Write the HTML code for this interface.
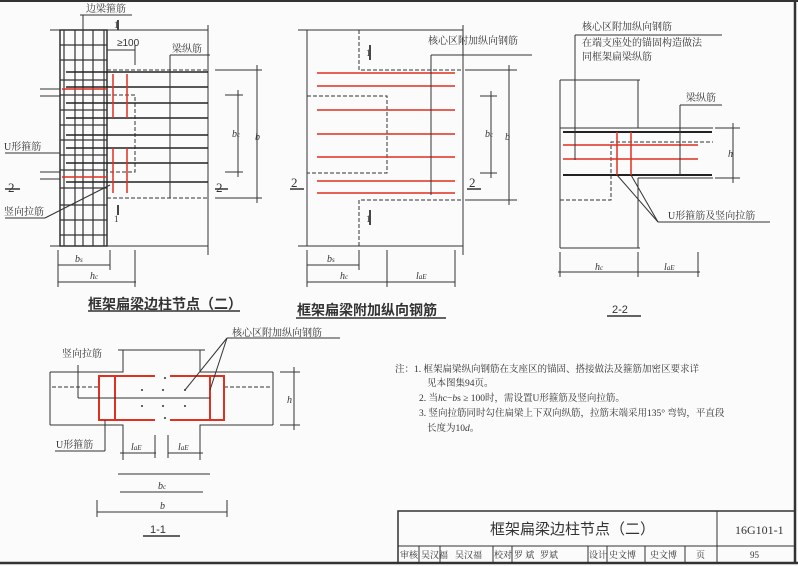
<!DOCTYPE html>
<html><head><meta charset="utf-8"><style>
html,body{margin:0;padding:0;background:#fff}
svg{display:block}
text{font-family:"Liberation Serif","Noto Serif CJK SC","Noto Sans CJK SC",serif;fill:#333}
.s{font-family:"Liberation Sans","Noto Sans CJK SC",sans-serif}
</style></head><body>
<svg width="798" height="566" viewBox="0 0 798 566" xmlns="http://www.w3.org/2000/svg">
<rect width="798" height="566" fill="#fbfbfb"/>
<g stroke="#333" stroke-width="1" fill="none">
<!-- border -->
<line x1="795" y1="0" x2="795" y2="563" stroke-width="2.5"/>
<line x1="0" y1="563" x2="798" y2="563" stroke-width="2.5"/>
<line x1="0" y1="1" x2="798" y2="1" stroke-width="2"/>

<!-- Diagram 1 -->
<rect x="60" y="30" width="47" height="216" stroke-width="1.5"/>
<g stroke-width="1.2">
<line x1="64" y1="30" x2="64" y2="246"/><line x1="75" y1="30" x2="75" y2="246"/><line x1="83" y1="30" x2="83" y2="246"/><line x1="93" y1="30" x2="93" y2="246"/><line x1="104" y1="30" x2="104" y2="246"/>
<line x1="60" y1="45" x2="107" y2="45"/><line x1="60" y1="60" x2="107" y2="60"/><line x1="60" y1="80" x2="107" y2="80"/><line x1="60" y1="95" x2="107" y2="95"/><line x1="60" y1="110" x2="107" y2="110"/><line x1="60" y1="125" x2="107" y2="125"/><line x1="60" y1="140" x2="107" y2="140"/><line x1="60" y1="155" x2="107" y2="155"/><line x1="60" y1="170" x2="107" y2="170"/><line x1="60" y1="188" x2="107" y2="188"/><line x1="60" y1="205" x2="107" y2="205"/><line x1="60" y1="220" x2="107" y2="220"/><line x1="60" y1="235" x2="107" y2="235"/>
</g>
<line x1="50" y1="30" x2="208" y2="30"/>
<line x1="50" y1="246" x2="208" y2="246"/>
<line x1="208" y1="25" x2="208" y2="255"/>
<g stroke-dasharray="4,2"><line x1="107" y1="70" x2="208" y2="70"/><line x1="107" y1="198" x2="208" y2="198"/><polyline points="107,95 135,95 135,172 107,172"/></g>
<g stroke-width="1.6" stroke="#222">
<line x1="66" y1="72" x2="208" y2="72"/><line x1="66" y1="87" x2="208" y2="87"/><line x1="66" y1="103" x2="208" y2="103"/><line x1="66" y1="118" x2="208" y2="118"/><line x1="66" y1="135" x2="208" y2="135"/><line x1="66" y1="148" x2="208" y2="148"/><line x1="66" y1="163" x2="208" y2="163"/><line x1="66" y1="182" x2="208" y2="182"/>
</g>
<g stroke="#e03020" stroke-width="1.5">
<line x1="62" y1="89" x2="107" y2="89"/><line x1="62" y1="177" x2="107" y2="177"/>
<line x1="113" y1="74" x2="113" y2="118"/><line x1="127" y1="74" x2="127" y2="118"/>
<line x1="113" y1="148" x2="113" y2="193"/><line x1="127" y1="148" x2="127" y2="193"/>
</g>
<line x1="170" y1="55" x2="170" y2="198"/><line x1="170" y1="55" x2="210" y2="55"/>
<line x1="83" y1="15" x2="83" y2="30"/><line x1="80" y1="15" x2="132" y2="15"/>
<line x1="107" y1="50" x2="135" y2="50"/><line x1="135" y1="45" x2="135" y2="65"/>
<line x1="215" y1="70" x2="262" y2="70"/><line x1="215" y1="198" x2="262" y2="198"/><line x1="257" y1="65" x2="257" y2="203"/>
<line x1="225" y1="95" x2="243" y2="95"/><line x1="225" y1="172" x2="243" y2="172"/><line x1="238" y1="90" x2="238" y2="177"/>
<line x1="58" y1="265" x2="110" y2="265"/><line x1="58" y1="282" x2="136" y2="282"/><line x1="58" y1="250" x2="58" y2="287"/><line x1="110" y1="250" x2="110" y2="270"/><line x1="135" y1="250" x2="135" y2="287"/>
<line x1="5" y1="153" x2="60" y2="153"/><line x1="5" y1="218" x2="45" y2="218"/><line x1="45" y1="218" x2="110" y2="185"/>
<line x1="40" y1="89" x2="60" y2="89"/><line x1="40" y1="96" x2="60" y2="96"/><line x1="40" y1="172" x2="60" y2="172"/><line x1="40" y1="179" x2="60" y2="179"/>
<line x1="118" y1="20" x2="118" y2="30" stroke-width="1.8"/><line x1="118" y1="205" x2="118" y2="215" stroke-width="1.8"/>
<line x1="5" y1="189" x2="20" y2="189" stroke-width="1.5"/><line x1="215" y1="189" x2="228" y2="189" stroke-width="1.5"/>
<line x1="88" y1="311" x2="240" y2="311" stroke-width="1.5"/>

<!-- Diagram 2 -->
<line x1="307" y1="30" x2="307" y2="246"/>
<line x1="298" y1="30" x2="463" y2="30"/><line x1="298" y1="246" x2="463" y2="246"/>
<line x1="463" y1="25" x2="463" y2="255"/>
<g stroke-dasharray="4,2"><polyline points="359,30 359,70 463,70"/><polyline points="359,246 359,200 463,200"/><polyline points="307,96 387,96 387,173 307,173"/></g>
<g stroke="#e03020" stroke-width="1.6">
<line x1="317" y1="73" x2="455" y2="73"/><line x1="317" y1="86" x2="455" y2="86"/><line x1="317" y1="110" x2="455" y2="110"/><line x1="317" y1="134" x2="455" y2="134"/><line x1="317" y1="157" x2="455" y2="157"/><line x1="317" y1="181" x2="455" y2="181"/><line x1="317" y1="193" x2="455" y2="193"/>
</g>
<line x1="431" y1="55" x2="431" y2="195"/><line x1="431" y1="55" x2="532" y2="55"/>
<line x1="465" y1="70" x2="517" y2="70"/><line x1="465" y1="200" x2="517" y2="200"/><line x1="509" y1="65" x2="509" y2="205"/>
<line x1="480" y1="96" x2="497" y2="96"/><line x1="480" y1="173" x2="497" y2="173"/><line x1="491" y1="91" x2="491" y2="178"/>
<line x1="307" y1="265" x2="359" y2="265"/><line x1="307" y1="282" x2="455" y2="282"/><line x1="307" y1="250" x2="307" y2="287"/><line x1="359" y1="250" x2="359" y2="270"/><line x1="387" y1="250" x2="387" y2="287"/><line x1="455" y1="250" x2="455" y2="287"/>
<line x1="370" y1="45" x2="370" y2="60" stroke-width="1.8"/><line x1="370" y1="210" x2="370" y2="225" stroke-width="1.8"/>
<line x1="290" y1="189" x2="304" y2="189" stroke-width="1.5"/><line x1="467" y1="189" x2="481" y2="189" stroke-width="1.5"/>
<line x1="296" y1="318" x2="446" y2="318" stroke-width="1.5"/>

<!-- Diagram 3 -->
<line x1="560" y1="80" x2="560" y2="248"/><line x1="638" y1="80" x2="638" y2="128"/><line x1="638" y1="178" x2="638" y2="248"/>
<line x1="560" y1="80" x2="640" y2="80"/><line x1="560" y1="248" x2="640" y2="248"/>
<line x1="560" y1="128" x2="713" y2="128"/><line x1="638" y1="178" x2="713" y2="178"/>
<g stroke-dasharray="4,2"><polyline points="560,200 611,200 611,142 713,142"/></g>
<g stroke="#222" stroke-width="2"><line x1="563" y1="132" x2="712" y2="132"/><line x1="563" y1="175" x2="712" y2="175"/></g>
<g stroke="#e03020" stroke-width="1.5"><line x1="563" y1="145" x2="698" y2="145"/><line x1="563" y1="159" x2="698" y2="159"/><line x1="617" y1="132" x2="617" y2="175"/><line x1="631" y1="132" x2="631" y2="175"/></g>
<line x1="575" y1="35" x2="575" y2="160"/><line x1="575" y1="35" x2="722" y2="35"/>
<line x1="680" y1="105" x2="680" y2="175"/><line x1="680" y1="105" x2="722" y2="105"/>
<line x1="617" y1="175" x2="658" y2="222"/><line x1="631" y1="175" x2="658" y2="222"/><line x1="658" y1="222" x2="770" y2="222"/>
<line x1="715" y1="128" x2="740" y2="128"/><line x1="715" y1="178" x2="740" y2="178"/><line x1="733" y1="123" x2="733" y2="183"/>
<line x1="560" y1="252" x2="560" y2="277"/><line x1="638" y1="252" x2="638" y2="277"/><line x1="698" y1="252" x2="698" y2="277"/><line x1="558" y1="272" x2="700" y2="272"/>
<line x1="607" y1="316" x2="641" y2="316" stroke-width="1.5"/>

<!-- Diagram 4 -->
<polyline points="123,350 123,372 50,372"/><polyline points="200,350 200,372 273,372"/><line x1="118" y1="350" x2="205" y2="350"/>
<polyline points="50,425 123,425 123,460"/><polyline points="273,425 200,425 200,460"/><line x1="118" y1="474" x2="210" y2="474"/>
<line x1="50" y1="372" x2="50" y2="425"/><line x1="273" y1="372" x2="273" y2="425"/>
<g stroke-dasharray="4,2"><line x1="52" y1="387" x2="99" y2="387"/><line x1="224" y1="387" x2="271" y2="387"/></g>
<g stroke="#e03020" stroke-width="2">
<polyline points="155,376 99,376 99,420 155,420"/><polyline points="170,376 224,376 224,420 170,420"/>
<line x1="115" y1="376" x2="115" y2="420"/><line x1="210" y1="376" x2="210" y2="420"/>
</g>
<line x1="78" y1="365" x2="78" y2="398"/><line x1="78" y1="398" x2="210" y2="398"/>
<line x1="105" y1="420" x2="105" y2="451"/><line x1="55" y1="451" x2="105" y2="451"/>
<line x1="185" y1="390" x2="227" y2="338"/><line x1="210" y1="390" x2="227" y2="338"/><line x1="227" y1="338" x2="340" y2="338"/>
<line x1="280" y1="372" x2="300" y2="372"/><line x1="280" y1="425" x2="300" y2="425"/><line x1="294" y1="367" x2="294" y2="430"/>
<line x1="120" y1="453" x2="156" y2="453"/><line x1="168" y1="453" x2="203" y2="453"/><line x1="155" y1="435" x2="155" y2="458"/><line x1="168" y1="435" x2="168" y2="458"/>
<line x1="120" y1="492" x2="203" y2="492"/><line x1="97" y1="512" x2="227" y2="512"/><line x1="97" y1="500" x2="97" y2="517"/><line x1="227" y1="500" x2="227" y2="517"/>
<line x1="143" y1="536" x2="180" y2="536" stroke-width="1.5"/>

<!-- title block -->
<rect x="398" y="511" width="397" height="52" stroke-width="1.5"/>
<line x1="398" y1="546" x2="795" y2="546"/>
<line x1="717" y1="511" x2="717" y2="546"/>
<g><line x1="419" y1="546" x2="419" y2="563"/><line x1="440" y1="546" x2="440" y2="563"/><line x1="493" y1="546" x2="493" y2="563"/><line x1="512" y1="546" x2="512" y2="563"/><line x1="588" y1="546" x2="588" y2="563"/><line x1="607" y1="546" x2="607" y2="563"/><line x1="645" y1="546" x2="645" y2="563"/><line x1="685" y1="546" x2="685" y2="563"/><line x1="717" y1="546" x2="717" y2="563"/></g>
</g>
<g fill="#333">
<circle cx="165" cy="378" r="1"/><circle cx="142" cy="390" r="1"/><circle cx="163" cy="390" r="1"/><circle cx="185" cy="390" r="1"/><circle cx="142" cy="406" r="1"/><circle cx="163" cy="406" r="1"/><circle cx="185" cy="406" r="1"/><circle cx="165" cy="418" r="1"/>
</g>
<g font-size="10">
<text x="86" y="12">边梁箍筋</text>
<text x="117" y="46" class="s">≥100</text>
<text x="172" y="52">梁纵筋</text>
<text x="4" y="150">U形箍筋</text>
<text x="4" y="215">竖向拉筋</text>
<text x="8" y="192" font-size="13">2</text><text x="216" y="192" font-size="13">2</text>
<text x="114" y="28" font-size="9">1</text><text x="114" y="222" font-size="9">1</text>
<text x="75" y="262" font-style="italic">b<tspan font-size="7">s</tspan></text>
<text x="90" y="279" font-style="italic">h<tspan font-size="7">c</tspan></text>
<text x="255" y="140" font-style="italic">b</text><text x="232" y="137" font-style="italic">b<tspan font-size="7">c</tspan></text>
<text x="88" y="309" font-size="14" font-weight="bold" class="s">框架扁梁边柱节点（二）</text>

<text x="428" y="44">核心区附加纵向钢筋</text>
<text x="291" y="187" font-size="13">2</text><text x="469" y="187" font-size="13">2</text>
<text x="366" y="56" font-size="9">1</text><text x="366" y="222" font-size="9">1</text>
<text x="327" y="262" font-style="italic">b<tspan font-size="7">s</tspan></text>
<text x="340" y="279" font-style="italic">h<tspan font-size="7">c</tspan></text>
<text x="416" y="279" font-style="italic">l<tspan font-size="7">aE</tspan></text>
<text x="505" y="140" font-style="italic">b</text><text x="485" y="137" font-style="italic">b<tspan font-size="7">c</tspan></text>
<text x="297" y="315" font-size="14" font-weight="bold" class="s">框架扁梁附加纵向钢筋</text>

<text x="582" y="30">核心区附加纵向钢筋</text>
<text x="582" y="46">在端支座处的锚固构造做法</text>
<text x="582" y="60">同框架扁梁纵筋</text>
<text x="686" y="101">梁纵筋</text>
<text x="668" y="219">U形箍筋及竖向拉筋</text>
<text x="728" y="157" font-style="italic">h</text>
<text x="595" y="270" font-style="italic">h<tspan font-size="7">c</tspan></text>
<text x="664" y="270" font-style="italic">l<tspan font-size="7">aE</tspan></text>
<text x="612" y="313" font-size="11" class="s">2-2</text>

<text x="62" y="357">竖向拉筋</text>
<text x="232" y="336">核心区附加纵向钢筋</text>
<text x="56" y="448">U形箍筋</text>
<text x="287" y="403" font-style="italic">h</text>
<text x="131" y="450" font-style="italic">l<tspan font-size="7">aE</tspan></text>
<text x="178" y="450" font-style="italic">l<tspan font-size="7">aE</tspan></text>
<text x="158" y="489" font-style="italic">b<tspan font-size="7">c</tspan></text>
<text x="160" y="509" font-style="italic">b</text>
<text x="150" y="533" font-size="11" class="s">1-1</text>

<g font-size="9.5">
<text x="395" y="372">注：1. 框架扁梁纵向钢筋在支座区的锚固、搭接做法及箍筋加密区要求详</text>
<text x="427" y="386">见本图集94页。</text>
<text x="419" y="401">2. 当<tspan font-style="italic">h</tspan>c−<tspan font-style="italic">b</tspan>s ≥ 100时，需设置U形箍筋及竖向拉筋。</text>
<text x="419" y="416">3. 竖向拉筋同时勾住扁梁上下双向纵筋，拉筋末端采用135° 弯钩，平直段</text>
<text x="427" y="431">长度为10<tspan font-style="italic">d</tspan>。</text>
</g>
<text x="490" y="534" font-size="15" class="s">框架扁梁边柱节点（二）</text>
<text x="735" y="534" font-size="12" fill="#555">16G101-1</text>
<g font-size="9"><text x="400" y="558">审核</text><text x="421" y="558">吴汉福</text><text x="455" y="558">吴汉福</text><text x="494" y="558">校对</text><text x="514" y="558">罗 斌</text><text x="540" y="558">罗斌</text><text x="589" y="558">设计</text><text x="609" y="558">史文博</text><text x="650" y="558">史文博</text><text x="696" y="558">页</text><text x="750" y="558">95</text></g>
</g>
</svg>
</body></html>
